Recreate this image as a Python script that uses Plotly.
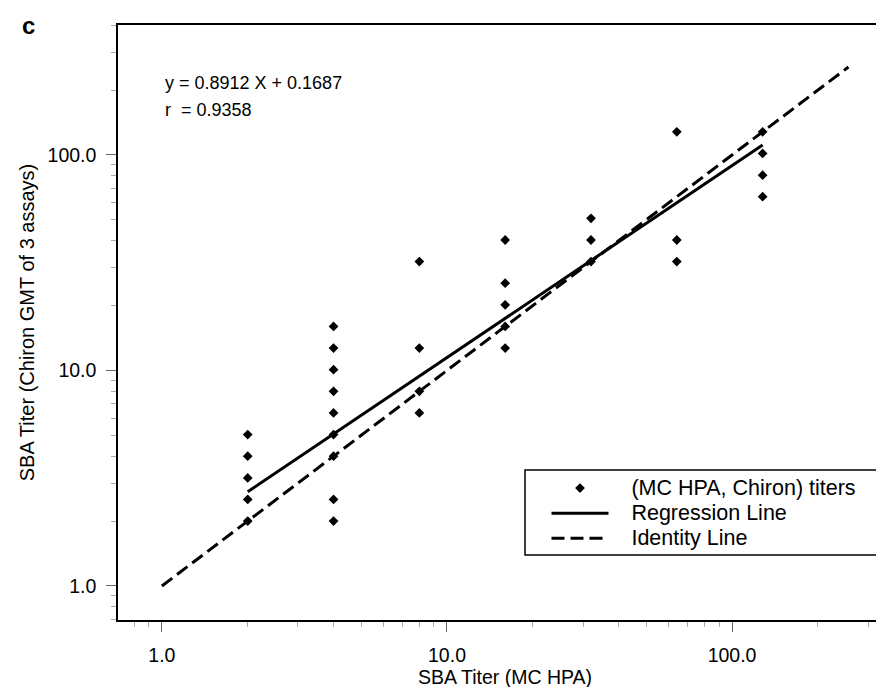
import numpy as np
import plotly.graph_objects as go

# ---- data ----
mc_hpa = [2, 2, 2, 2, 2,
          4, 4, 4, 4, 4, 4, 4, 4, 4,
          8, 8, 8, 8,
          16, 16, 16, 16, 16,
          32, 32, 32,
          64, 64, 64,
          128, 128, 128, 128]
chiron_gmt = [2.0, 2.52, 3.17, 4.0, 5.04,
              2.0, 2.52, 4.0, 5.04, 6.35, 8.0, 10.08, 12.7, 16.0,
              6.35, 8.0, 12.7, 32.0,
              12.7, 16.0, 20.16, 25.4, 40.3,
              32.0, 40.3, 50.8,
              32.0, 40.3, 128.0,
              64.0, 80.6, 101.6, 128.0]

slope = 0.8912
intercept = 0.1687
r_value = 0.9358
regression_x_span = [2, 128]
identity_span = [1, 256]

tick_vals = [1, 10, 100]
tick_text = ["1.0", "10.0", "100.0"]
minor_vals = [0.7, 0.8, 0.9] + [d * m for d in (1, 10, 100) for m in range(2, 10)]

legend_names = ["(MC HPA, Chiron) titers", "Regression Line", "Identity Line"]

reg_x = np.array(regression_x_span, dtype=float)
reg_y = 10 ** (intercept + slope * np.log10(reg_x))

FONT = "Liberation Sans, Arial, Helvetica, sans-serif"
LEG_PAD = "\u00a0\u00a0\u00a0"


def leg(name):
    return f"<span style='font-size:21.5px'>{LEG_PAD}{name}</span>"


fig = go.Figure()
fig.add_trace(go.Scatter(
    x=mc_hpa, y=chiron_gmt, mode="markers",
    name=leg(legend_names[0]),
    marker=dict(symbol="diamond", size=7.5, color="black"),
))
fig.add_trace(go.Scatter(
    x=reg_x, y=reg_y, mode="lines", name=leg(legend_names[1]),
    line=dict(color="black", width=3),
))
fig.add_trace(go.Scatter(
    x=identity_span, y=identity_span, mode="lines", name=leg(legend_names[2]),
    line=dict(color="black", width=3, dash="13px,6px"),
))

axis_common = dict(
    type="log",
    tickmode="array", tickvals=tick_vals, ticktext=tick_text,
    ticks="outside", ticklen=10, tickwidth=1, tickcolor="#666",
    showline=True, linecolor="black", linewidth=1.5,
    showgrid=False, zeroline=False,
    tickfont=dict(family=FONT, size=19.5, color="black"),
    minor=dict(tickmode="array", tickvals=minor_vals, ticks="outside",
               ticklen=5, tickwidth=1, tickcolor="#aaa", showgrid=False),
    automargin=False,
)

fig.update_xaxes(
    **axis_common,
    range=[-0.154, 2.561],
    mirror=True,
    ticklabelstandoff=7,
    title=dict(text="SBA Titer (MC HPA)",
               font=dict(family=FONT, size=19.5, color="black"), standoff=1),
)
fig.update_yaxes(
    **axis_common,
    range=[-0.158, 2.603],
    ticklabelstandoff=6,
    title=dict(text="SBA Titer (Chiron GMT of 3 assays)",
               font=dict(family=FONT, size=20, color="black"), standoff=8),
)

fig.add_annotation(xref="paper", yref="paper", x=0.058, y=(612 - 75) / 595,
                   xanchor="left", yanchor="middle", showarrow=False,
                   text=f"y = {slope} X + {intercept}",
                   font=dict(family=FONT, size=18, color="black"))
fig.add_annotation(xref="paper", yref="paper", x=0.058, y=(612 - 101.5) / 595,
                   xanchor="left", yanchor="middle", showarrow=False,
                   text=f"r\u00a0 = {r_value}",
                   font=dict(family=FONT, size=18, color="black"))
fig.add_annotation(xref="paper", yref="paper", x=-0.127, y=1.0,
                   xanchor="left", yanchor="middle", showarrow=False,
                   text="<b>c</b>",
                   font=dict(family=FONT, size=24, color="black"))

# legend frame
fig.add_shape(type="rect", xref="paper", yref="paper",
              x0=(517 - 110) / 774, x1=(869 - 110) / 774,
              y0=(612 - 547) / 595, y1=(612 - 462) / 595,
              line=dict(color="black", width=1.5), fillcolor="white", layer="below")

fig.update_layout(
    width=884, height=687,
    margin=dict(l=110, r=0, t=17, b=75),
    paper_bgcolor="white", plot_bgcolor="white",
    font=dict(family=FONT, size=16, color="black"),
    showlegend=True,
    legend=dict(
        x=(538.5 - 110) / 774, y=(612 - 462.5) / 595,
        xanchor="left", yanchor="top",
        borderwidth=0, bgcolor="rgba(0,0,0,0)",
        font=dict(family=FONT, size=17, color="black"),
        itemwidth=57,
        tracegroupgap=0,
    ),
)

fig.write_html("out.html")
